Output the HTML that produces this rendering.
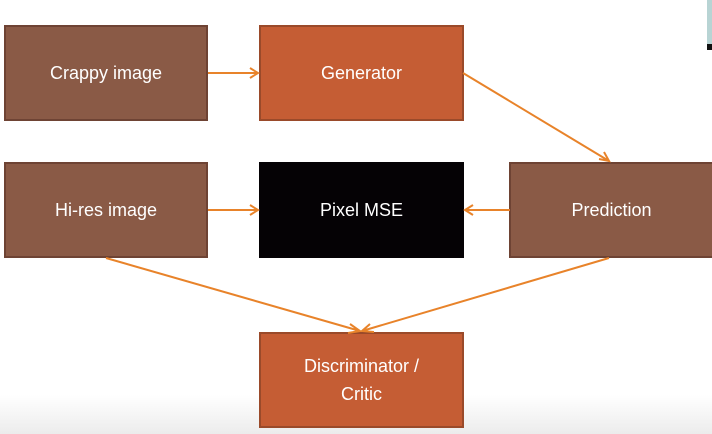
<!DOCTYPE html>
<html><head><style>
body{margin:0;width:712px;height:434px;overflow:hidden;background:linear-gradient(#fff 0,#fff 395px,#ececec 434px);position:relative;font-family:"Liberation Sans",sans-serif}
.b{position:absolute;box-sizing:border-box;border:2px solid #6e4334;color:#fff;display:flex;align-items:center;justify-content:center;text-align:center;font-size:18px;line-height:28px}
.br{background:#8a5a46}
.or{background:#c55d34;border-color:#9a4a2a}
.bk{background:#050205;border-color:#050205}
svg{position:absolute;left:0;top:0}
</style></head><body>
<div class="b br" style="left:4px;top:25px;width:204px;height:96px">Crappy image</div>
<div class="b or" style="left:259px;top:25px;width:205px;height:96px">Generator</div>
<div class="b br" style="left:4px;top:162px;width:204px;height:96px">Hi-res image</div>
<div class="b bk" style="left:259px;top:162px;width:205px;height:96px">Pixel MSE</div>
<div class="b br" style="left:509px;top:162px;width:205px;height:96px">Prediction</div>
<div class="b or" style="left:259px;top:332px;width:205px;height:96px">Discriminator /<br>Critic</div>
<div style="position:absolute;left:707px;top:0;width:5px;height:44px;background:#b8d4d4"></div>
<div style="position:absolute;left:707px;top:44px;width:5px;height:6px;background:#111"></div>
<svg width="712" height="434" fill="none" stroke="#e8832a" stroke-width="2">
<path d="M463 73L609 161M599 159l10 2-5-9"/>
<path d="M208 73H258M250 68l8 5-8 5"/>
<path d="M208 210H258M250 205l8 5-8 5"/>
<path d="M510 210H465M473 205l-8 5 8 5"/>
<path d="M106 258L360 331M350 324l10 7-12 2"/>
<path d="M609 258L362 331M370 324l-8 7 12 1"/>
</svg>
</body></html>
